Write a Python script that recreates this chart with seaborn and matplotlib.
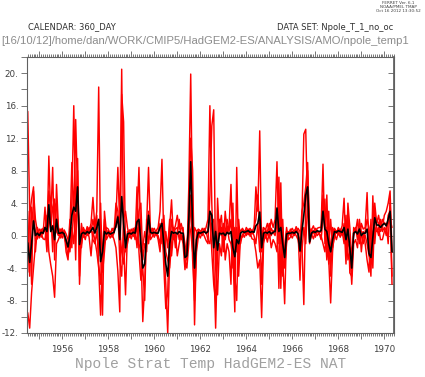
import numpy as np
import pandas as pd
import matplotlib
matplotlib.use("Agg")
import matplotlib.pyplot as plt
import seaborn as sns
from matplotlib.ticker import MultipleLocator, FixedLocator

start_year = 1954.5
member_a = [15.3, 3.0, -6.0, 5.5, 2.0,
            0.5, -0.3, 0.8, 0.2,
            3.5, -1.0, 9.8, 2.0, 8.4, -3.0, 6.3, 1.0,
            0.4, 0.9, -0.2, -1.0,
            -2.5, -1.0, 4.0, 16.0, 3.0, 8.0, -6.0, 0.5,
            0.8, 0.2, 1.1, 0.5, 1.5, 4.7,
            1.0, 3.0, 18.3, -2.0, -9.8, 3.0, 0.5,
            0.6, 0.1, 0.9, 0.4,
            2.0, 8.4, 1.0, 20.5, -1.0, -7.3, 0.5,
            0.3, 0.8, 0.2,
            0.5, 2.0, 8.4, -1.0, -10.6, -6.0, 1.0, 8.4, 0.5,
            0.9, 0.2, 0.6,
            1.0, 3.0, 9.4, -1.0, -6.0, -12.0, -3.0, 2.0,
            0.5, 1.2, 2.5, 0.8, 1.5,
            0.5, -1.0, -3.0, 6.0, 19.9, 2.0, -11.0, -1.0,
            0.6, 0.2, 0.9, 0.4, 1.0,
            2.0, 16.0, 4.0, -3.0, -11.4, -2.0, 1.0,
            2.5, -1.0, 3.0, 0.5,
            1.0, 6.3, -2.0, -9.4, 8.4, -3.0, 0.5,
            0.8, 0.3, 1.0, 0.6, 0.9, 0.2,
            0.5, 6.0, 3.0, 12.9, -2.0, 1.0,
            0.7, 1.5, 0.4, 2.0, 1.0,
            2.0, 9.1, -1.0, 4.0, -3.0, -8.4, 0.5, 0.0,
            0.6, 0.9, 0.3, 1.1, 0.5,
            -5.5, 2.0, 12.5, 13.1, 3.0, -0.5,
            0.7, 1.2, 0.4, 0.9, 1.0,
            1.0, 8.8, -1.0, 5.0, -3.0, -8.3, -2.0,
            0.8, 0.3, 1.0, 0.5, 1.2,
            4.6, -2.0, 3.0, -4.6, -5.0, 1.0,
            0.5, 2.0, -1.0, 1.5, 0.8,
            1.0, 5.3, -2.0, -5.0, 4.9, -1.0, 2.0, 1.5, 0.5,
            1.0, 2.5, 3.0, 4.0, 5.5, -2.0]
member_b = [-9.5, -11.4, -7.0, -4.0, -1.0,
            0.0, 0.4, -0.2, 0.6,
            0.5, 2.5, -2.0, -3.6, -5.0, -7.6, -1.0, -0.5,
            0.2, -0.3, 0.5, -2.0,
            -3.0, 0.5, 9.0, 2.0, 14.3, 5.0, -2.0, -1.0,
            0.3, -0.5, 0.7, -0.2, -2.5, 0.5,
            -0.5, -2.0, -4.0, -9.8, -3.0, -1.0, 0.0,
            0.4, -0.3, 0.2, -0.5,
            -1.5, -4.4, -9.4, 17.4, 14.0, -2.0, -1.0,
            0.2, -0.4, 0.5,
            -0.5, 6.0, -2.0, -5.5, -4.0, -8.0, 2.0, -1.0, 1.0,
            0.3, -0.2, 0.4,
            -0.5, -2.0, 2.0, -4.0, -9.0, -7.0, 1.0, 4.4,
            -0.5, 0.3, -2.5, -1.0, 0.2,
            -1.0, -4.2, -2.0, 2.0, 12.0, 8.0, -6.0, 0.5,
            0.2, -0.3, 0.4, 0.0, -0.6,
            -1.0, 5.0, 13.5, 15.5, -4.0, -7.3, -1.0,
            -2.5, 1.5, -3.0, -1.0,
            -2.0, -6.0, 4.0, -5.0, -8.0, 2.0, -1.0,
            0.2, -0.2, 0.5, 0.1, 0.3, -0.4,
            -0.5, -2.0, -4.0, -3.0, -10.1, -1.0,
            0.2, -0.8, 0.5, -1.5, -0.5,
            -1.0, -2.0, 7.2, -6.5, 2.0, -4.0, -1.0, 0.5,
            0.1, -0.3, 0.4, 0.0, -0.5,
            -2.0, -1.0, -8.5, 4.0, 8.0, 1.0,
            0.2, -0.4, 0.5, 0.0, 0.3,
            -0.5, 2.0, 4.5, -2.0, 3.0, -5.0, 1.0,
            0.2, -0.5, 0.4, -0.2, 0.6,
            -1.0, 2.5, -3.0, -2.0, -6.0, -1.0,
            -0.5, -1.5, 1.5, -2.0, 0.5,
            -1.0, -3.0, -4.5, 2.0, -4.0, 3.0, 1.0, 0.0, 2.0,
            0.5, 1.0, 0.0, 2.5, 3.0, -6.0]
member_c = [-4.5, 2.5, 4.5, 6.0, -2.0,
            1.0, 0.2, 0.3, -0.4,
            -0.5, 1.5, 5.5, 3.0, -2.0, 4.0, 3.5, 0.5,
            -0.3, 0.6, 0.1, -0.5,
            -1.5, 2.0, -1.5, 4.5, -3.0, 9.5, -5.0, 1.5,
            -0.2, 0.6, 0.0, 1.0, 0.4, 2.0,
            0.5, 2.5, -3.5, -6.0, -1.5, 2.0, -0.5,
            0.0, 0.5, -0.2, 0.3,
            4.0, 3.0, -3.0, -5.0, 2.0, 3.0, 1.0,
            -0.2, 0.3, -0.1,
            1.0, -1.5, 3.0, 4.0, -3.0, -1.0, -2.0, 3.0, -0.5,
            -0.1, 0.4, 0.0,
            0.5, 1.5, -1.0, 2.5, -2.0, -3.0, -4.0, -1.0,
            1.0, -1.5, 0.5, 2.0, -0.5,
            0.0, -3.0, -4.0, -1.0, 5.0, -3.0, -8.0, -2.0,
            -0.1, 0.5, 0.0, 0.6, 0.2,
            0.5, 3.0, -2.0, -6.0, -8.0, 4.6, 0.0,
            1.0, -2.0, 0.5, 2.0,
            0.5, 2.0, -4.0, -2.0, 1.0, -5.0, 0.0,
            -0.2, 0.6, 0.0, 0.8, -0.1, 0.5,
            1.0, 2.0, 5.0, 1.0, -6.0, 0.5,
            -0.3, 0.5, 1.5, 0.0, 0.6,
            0.5, 3.0, -6.5, 6.5, -5.0, -2.0, 1.0, -0.5,
            -0.2, 0.5, 0.0, 0.7, 0.2,
            -1.0, 3.0, 4.0, 6.0, 9.0, -1.0,
            0.0, 0.6, -0.2, 0.5, 0.3,
            0.5, 5.0, 1.0, -3.0, -1.0, 2.0, -1.5,
            -0.2, 0.6, 0.1, 0.8, 0.0,
            1.5, -3.5, 4.0, 1.0, -3.0, 0.5,
            1.0, -0.5, 2.0, 0.0, -1.0,
            0.5, 2.0, 1.0, -3.5, -2.0, 4.0, 1.5, 2.5, 1.0,
            2.0, 1.5, 1.5, -1.0, 4.5, -5.0]
member_d = [3.0, -5.0, 3.5, 1.5, 0.5,
            -0.4, 0.8, 0.5, 0.9,
            1.0, -2.0, 2.5, 0.8, 3.5, 4.5, 0.5, 0.0,
            0.8, 0.1, 0.7, 0.2,
            -0.5, -2.0, 1.0, -1.0, 2.5, 4.0, 1.0, -1.5,
            1.0, 0.4, 0.9, 0.2, 1.2, -0.5,
            -1.0, 0.5, -2.5, 4.0, -4.5, -2.0, 1.0,
            0.8, 0.2, 0.6, 0.9,
            1.0, 2.5, 0.5, -2.0, -3.5, -1.0, 0.0,
            0.7, 0.1, 0.9,
            0.0, 1.0, -1.0, -2.0, -1.5, 0.5, -1.0, 1.5, 0.0,
            0.6, 0.9, 0.3,
            0.0, -1.0, 1.0, -2.0, 0.5, -1.5, 2.0, -2.5,
            0.2, 0.8, 1.0, -0.5, 0.9,
            1.0, -2.5, -1.0, 1.5, 0.5, -2.0, 1.0, 0.5,
            0.8, 0.6, 0.2, 0.9, 0.5,
            -0.5, -1.0, 1.5, 2.0, -3.0, -1.0, 2.0,
            0.0, 0.8, -0.5, 1.2,
            -0.5, -1.0, -3.0, 1.0, -2.0, 1.0, 0.5,
            0.9, 0.4, 0.7, 0.2, 0.8, 0.6,
            0.0, -1.0, 1.5, -2.0, 1.0, -0.5,
            0.8, 0.2, -0.3, 0.9, 0.4,
            0.0, 1.5, 2.0, -1.0, 1.0, -3.0, 0.5, 0.0,
            0.8, 0.2, 0.7, 0.4, 0.9,
            0.5, -2.0, 1.0, -1.0, 4.0, 0.5,
            0.8, 0.3, 0.9, 0.6, 0.2,
            0.0, -1.0, -2.0, 1.0, -3.5, -1.0, 0.5,
            0.9, 0.4, 0.8, 0.2, 0.7,
            0.0, 1.0, -1.0, -1.5, -2.0, 0.0,
            0.8, 0.2, 1.0, 0.5, 0.3,
            0.0, -1.0, -2.5, -1.5, 0.5, 1.0, 0.5, 1.0, -0.5,
            -0.5, 0.5, 1.0, 1.5, 2.0, 1.0]
ens_mean = [-0.9, -3.3, -1.0, 1.8, 0.0,
            0.3, 0.0, 0.4, 0.3,
            1.0, 0.5, 3.8, 0.5, 1.2, -0.5, 2.0, 0.3,
            0.3, 0.4, 0.2, -0.6,
            -1.4, 0.0, 2.5, 3.5, 3.0, 6.0, -1.1, 0.2,
            0.4, 0.2, 0.5, 0.3, 0.6, 1.0,
            0.3, 1.0, 2.0, -3.2, -2.0, 0.5, 0.2,
            0.4, 0.2, 0.3, 0.4,
            1.2, 2.3, -0.5, 4.8, 1.5, -1.5, 0.2,
            0.3, 0.2, 0.4,
            0.3, 1.7, 2.0, -1.0, -4.0, -3.5, 0.0, 2.5, 0.4,
            0.3, 0.4, 0.3,
            0.3, 1.0, 1.5, -1.0, -3.5, -5.0, -1.0, 0.5,
            0.3, 0.4, 0.2, 0.5, 0.3,
            0.3, -2.7, -2.5, 2.0, 9.1, 1.0, -4.0, -0.5,
            0.4, 0.3, 0.4, 0.5, 0.3,
            0.5, 3.0, 2.5, -1.5, 0.5, -1.8, 0.3,
            0.2, 0.3, 0.0, 0.4,
            0.2, 0.5, -1.5, -2.6, -0.5, -1.0, 0.3,
            0.5, 0.4, 0.5, 0.6, 0.4, 0.5,
            0.4, 1.2, 1.5, 2.9, -1.5, 0.3,
            0.4, 0.3, 0.5, 0.2, 0.4,
            0.5, 3.4, 0.5, 1.0, -1.0, -2.7, 0.2, 0.3,
            0.3, 0.4, 0.3, 0.5, 0.2,
            -1.9, 0.5, 2.5, 5.0, 6.0, -0.8,
            0.3, 0.5, 0.4, 0.6, 0.5,
            0.6, 3.0, 0.8, 0.5, -1.0, -2.0, -0.5,
            0.5, 0.4, 0.6, 0.5, 0.4,
            1.0, -0.5, 0.8, -1.5, -4.0, 0.3,
            0.5, 0.2, 0.8, 0.0, 0.3,
            0.3, 0.8, -2.2, -2.7, -0.3, 2.2, 1.3, 1.3, 1.0,
            1.3, 1.5, 1.2, 2.0, 3.0, -2.0]

year_ticks = [1956, 1958, 1960, 1962, 1964, 1966, 1968, 1970]
y_ticks = [20, 16, 12, 8, 4, 0, -4, -8, -12]
y_labels = ["20.", "16.", "12.", "8.", "4.", "0.", "-4.", "-8.", "-12."]

n = len(ens_mean)
time = start_year + np.arange(n) / 12.0
members = {"A": member_a, "B": member_b, "C": member_c, "D": member_d}
df = pd.concat([pd.DataFrame({"time": time[:len(v)], "value": v, "member": k})
                for k, v in members.items()], ignore_index=True)
dfm = pd.DataFrame({"time": time, "value": ens_mean})

sns.set_theme(style="white")
plt.rcParams["font.family"] = ["DejaVu Sans"]

fig = plt.figure(figsize=(4.25, 3.77), dpi=100)
ax = fig.add_axes([27.3 / 425, 1 - 333 / 377, (394 - 27.3) / 425, (333 - 57) / 377])

sns.lineplot(data=df, x="time", y="value", hue="member",
             palette=["#ff0000"] * 4, linewidth=1.05, legend=False, ax=ax,
             estimator=None, sort=False)
sns.lineplot(data=dfm, x="time", y="value", color="black", linewidth=1.2,
             ax=ax, estimator=None, sort=False)

ax.set_xlim(1954.48, 1970.42)
ax.set_ylim(-12, 22)
ax.set_xlabel("")
ax.set_ylabel("")

frame_col = "#606060"
for s in ax.spines.values():
    s.set_color(frame_col)
    s.set_linewidth(0.8)

ax.xaxis.set_minor_locator(MultipleLocator(1 / 12))
ax.set_xticks(list(range(1955, 1971)))
ax.set_xticklabels([str(y) if y in year_ticks else "" for y in range(1955, 1971)])
ax.set_yticks(list(range(-12, 23, 2)))
ax.set_yticklabels([y_labels[y_ticks.index(v)] if v in y_ticks else ""
                    for v in range(-12, 23, 2)])

ax.tick_params(axis="both", which="both", colors=frame_col, labelcolor="#404040",
               labelsize=6.3, width=0.6)
ax.tick_params(axis="x", which="major", direction="out", length=4, top=True, bottom=True, pad=5)
ax.tick_params(axis="x", which="minor", direction="out", length=2, top=True, bottom=True)
ax.tick_params(axis="y", which="major", direction="out", length=4, left=True, right=False, pad=2.5)
ax2 = ax.secondary_yaxis("right")
ax2.set_yticks(list(range(-12, 23, 2)))
ax2.set_yticklabels([])
ax2.tick_params(axis="y", direction="in", length=4, colors=frame_col, width=0.6)
ax2.spines["right"].set_color(frame_col)

fig.text(28 / 425, 1 - 27 / 377, "CALENDAR: 360_DAY", fontsize=6, color="#303030",
         ha="left", va="center")
fig.text(393 / 425, 1 - 27 / 377, "DATA SET: Npole_T_1_no_oc", fontsize=6, color="#303030",
         ha="right", va="center")
fig.text(1 / 425, 1 - 41 / 377,
         "[16/10/12]/home/dan/WORK/CMIP5/HadGEM2-ES/ANALYSIS/AMO/npole_temp1",
         fontsize=8.1, color="#8c8c8c", ha="left", va="center",
         family=["Liberation Sans"])
fig.text(398 / 425, 1 - 7 / 377, "FERRET Ver. 6.1\nNOAA/PMEL TMAP\nOct 16 2012 13:30:52",
         fontsize=3, color="#404040", ha="center", va="center", linespacing=1.1)
fig.text(211 / 425, 1 - 364 / 377, "Npole Strat Temp HadGEM2-ES NAT", fontsize=10.5,
         color="#a0a0a0", ha="center", va="center", family=["Liberation Mono"])

fig.savefig("out.png", dpi=100)
